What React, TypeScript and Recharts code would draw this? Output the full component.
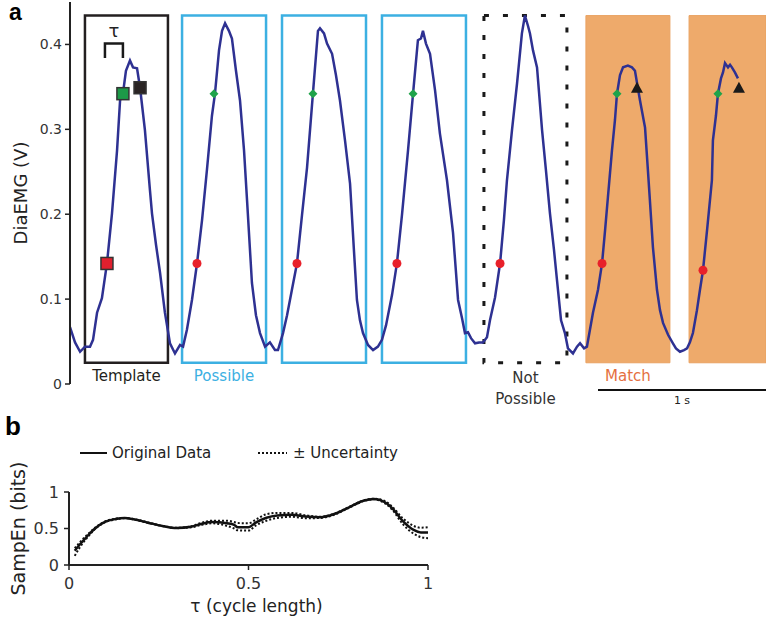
import React from 'react';
import {
  ComposedChart,
  LineChart,
  Line,
  Scatter,
  XAxis,
  YAxis,
  ReferenceArea,
  ReferenceDot,
  ReferenceLine,
  Legend,
} from 'recharts';

const FONT = '"DejaVu Sans", Verdana, sans-serif';

// panel a: DiaEMG trace (time in s, amplitude in V)
const TIME = [
  0, 0.03, 0.06, 0.089, 0.119, 0.137, 0.161, 0.19, 0.22, 0.25, 0.28, 0.298, 0.315, 0.333, 0.357, 0.375, 0.399, 0.417,
  0.446, 0.476, 0.488, 0.512, 0.536, 0.565, 0.595, 0.625, 0.655, 0.673, 0.696, 0.726, 0.756, 0.786, 0.815, 0.845,
  0.863, 0.887, 0.905, 0.923, 0.946, 0.964, 0.988, 1.012, 1.036, 1.054, 1.083, 1.107, 1.131, 1.161, 1.19, 1.22, 1.238,
  1.268, 1.292, 1.321, 1.351, 1.381, 1.411, 1.446, 1.476, 1.488, 1.512, 1.53, 1.56, 1.583, 1.607, 1.637, 1.667, 1.69,
  1.708, 1.726, 1.744, 1.774, 1.804, 1.833, 1.857, 1.881, 1.917, 1.946, 1.976, 2.012, 2.042, 2.071, 2.089, 2.101,
  2.119, 2.143, 2.173, 2.202, 2.244, 2.28, 2.31, 2.333, 2.351, 2.369, 2.387, 2.411, 2.435, 2.458, 2.482, 2.5, 2.53,
  2.56, 2.583, 2.601, 2.631, 2.661, 2.69, 2.708, 2.726, 2.738, 2.756, 2.78, 2.81, 2.833, 2.857, 2.881, 2.899, 2.923,
  2.946, 2.964, 2.994, 3.018, 3.036, 3.06, 3.077, 3.095, 3.113, 3.143, 3.167, 3.185, 3.202, 3.226, 3.244, 3.256,
  3.274, 3.292, 3.321, 3.345, 3.363, 3.393, 3.423, 3.44, 3.452, 3.47, 3.494, 3.512, 3.53, 3.56, 3.589, 3.607, 3.631,
  3.655, 3.673, 3.69, 3.708, 3.732, 3.75, 3.768, 3.792, 3.821, 3.827, 3.845, 3.857, 3.875, 3.887, 3.899, 3.917, 3.929,
  3.94, 3.958, 3.976,
];
const DIA_EMG = [
  0.067, 0.049, 0.038, 0.044, 0.044, 0.052, 0.084, 0.101, 0.142, 0.201, 0.275, 0.334, 0.342, 0.369, 0.381, 0.373, 0.372,
  0.349, 0.299, 0.228, 0.201, 0.164, 0.131, 0.084, 0.048, 0.036, 0.046, 0.044, 0.064, 0.099, 0.142, 0.193, 0.252, 0.316,
  0.342, 0.393, 0.416, 0.425, 0.416, 0.407, 0.369, 0.334, 0.275, 0.216, 0.119, 0.081, 0.06, 0.044, 0.049, 0.04, 0.04,
  0.06, 0.081, 0.111, 0.142, 0.199, 0.255, 0.342, 0.416, 0.419, 0.413, 0.401, 0.389, 0.364, 0.334, 0.287, 0.236, 0.158,
  0.099, 0.075, 0.06, 0.046, 0.04, 0.044, 0.052, 0.069, 0.105, 0.142, 0.199, 0.275, 0.342, 0.405, 0.407, 0.416, 0.401,
  0.389, 0.346, 0.295, 0.24, 0.178, 0.099, 0.078, 0.06, 0.061, 0.054, 0.048, 0.049, 0.049, 0.055, 0.075, 0.102, 0.142,
  0.193, 0.24, 0.299, 0.354, 0.413, 0.434, 0.422, 0.413, 0.393, 0.373, 0.299, 0.252, 0.201, 0.158, 0.122, 0.075, 0.06,
  0.042, 0.036, 0.044, 0.048, 0.042, 0.044, 0.064, 0.084, 0.111, 0.142, 0.181, 0.22, 0.275, 0.311, 0.342, 0.364,
  0.373, 0.375, 0.373, 0.369, 0.334, 0.302, 0.252, 0.216, 0.161, 0.111, 0.087, 0.072, 0.058, 0.048, 0.042, 0.038,
  0.04, 0.042, 0.049, 0.06, 0.087, 0.111, 0.134, 0.181, 0.24, 0.287, 0.316, 0.342, 0.36, 0.367, 0.378, 0.373, 0.376,
  0.373, 0.367, 0.36,
];

// template points (squares) and matched points
const TEMPLATE_T = [0.22, 0.315, 0.417];
const TEMPLATE_V = [0.142, 0.342, 0.349];
const TEMPLATE_COLORS = ['#e0202e', '#1c9a48', '#2a2424'];
const RED_T = [0.756, 1.351, 1.946, 2.56, 3.167, 3.768];
const RED_V = [0.142, 0.142, 0.142, 0.142, 0.142, 0.134];
const GREEN_T = [0.857, 1.446, 2.042, 3.256, 3.857];
const GREEN_V = [0.342, 0.342, 0.342, 0.342, 0.342];
const TRIANGLE_T = [3.375, 3.982];
const TRIANGLE_V = [0.349, 0.349];

// windows: [start, end] in s
const TEMPLATE_WIN = [0.089, 0.583];
const POSSIBLE_WINS = [[0.667, 1.167], [1.262, 1.762], [1.857, 2.357]];
const NOT_POSSIBLE_WIN = [2.464, 2.958];
const MATCH_WINS = [[3.071, 3.571], [3.685, 4.143]];
const WIN_LOW = 0.025;
const WIN_HIGH = 0.434;

const TAU_T = [0.208, 0.208, 0.315, 0.315];
const TAU_V = [0.384, 0.401, 0.401, 0.384];

// panel b: SampEn vs tau
const TAU = [
  0.016, 0.03, 0.05, 0.07, 0.1, 0.13, 0.155, 0.18, 0.22, 0.26, 0.3, 0.34, 0.37, 0.4, 0.44, 0.46, 0.47, 0.5, 0.52, 0.55,
  0.58, 0.62, 0.66, 0.7, 0.74, 0.78, 0.82, 0.85, 0.88, 0.9, 0.93, 0.96, 0.98, 1.0,
];
const SAMPEN = [
  0.196, 0.28, 0.39, 0.49, 0.59, 0.63, 0.643, 0.627, 0.58, 0.535, 0.507, 0.523, 0.565, 0.589, 0.571, 0.55, 0.518, 0.518,
  0.58, 0.648, 0.679, 0.689, 0.663, 0.654, 0.7, 0.79, 0.88, 0.904, 0.86, 0.78, 0.6, 0.48, 0.446, 0.446,
];
const SAMPEN_UPPER = [
  0.23, 0.31, 0.41, 0.5, 0.595, 0.635, 0.645, 0.63, 0.583, 0.537, 0.509, 0.53, 0.58, 0.607, 0.607, 0.589, 0.575, 0.571,
  0.62, 0.696, 0.714, 0.714, 0.68, 0.66, 0.705, 0.795, 0.885, 0.908, 0.875, 0.8, 0.64, 0.536, 0.511, 0.518,
];
const SAMPEN_LOWER = [
  0.125, 0.24, 0.37, 0.48, 0.585, 0.625, 0.641, 0.624, 0.577, 0.533, 0.505, 0.516, 0.55, 0.571, 0.535, 0.5, 0.475,
  0.471, 0.54, 0.607, 0.645, 0.66, 0.64, 0.645, 0.69, 0.785, 0.875, 0.9, 0.845, 0.76, 0.56, 0.429, 0.382, 0.368,
];

const traceRows = TIME.map((t, i) => ({ t, v: DIA_EMG[i] }));
const tauRows = TAU_T.map((t, i) => ({ t, v: TAU_V[i] }));
const templateRows = TEMPLATE_T.map((t, i) => ({ t, v: TEMPLATE_V[i], c: TEMPLATE_COLORS[i] }));
const redRows = RED_T.map((t, i) => ({ t, v: RED_V[i] }));
const greenRows = GREEN_T.map((t, i) => ({ t, v: GREEN_V[i] }));
const triRows = TRIANGLE_T.map((t, i) => ({ t, v: TRIANGLE_V[i] }));
const sampRows = TAU.map((tau, i) => ({ tau, orig: SAMPEN[i], hi: SAMPEN_UPPER[i], lo: SAMPEN_LOWER[i] }));

const squareShape = (p: any) => (
  <rect x={p.cx - 6} y={p.cy - 6} width={12} height={12} fill={p.payload.c} stroke="#333" strokeWidth={1.5} />
);
const dotShape = (p: any) => <circle cx={p.cx} cy={p.cy} r={4.5} fill="#e8202a" />;
const diamondShape = (p: any) => (
  <polygon points={`${p.cx},${p.cy - 4.5} ${p.cx + 4.5},${p.cy} ${p.cx},${p.cy + 4.5} ${p.cx - 4.5},${p.cy}`} fill="#1fa34a" />
);
const triShape = (p: any) => (
  <polygon points={`${p.cx},${p.cy - 6} ${p.cx + 6},${p.cy + 5} ${p.cx - 6},${p.cy + 5}`} fill="#1a1a1a" />
);

const textShape = (lines: string[], color: string, size: number, dy: number, lineGap = 21) => (p: any) => (
  <text x={p.cx} y={p.cy + dy} textAnchor="middle" fill={color} fontSize={size} fontFamily={FONT}>
    {lines.map((l, i) => (
      <tspan key={i} x={p.cx} dy={i === 0 ? 0 : lineGap}>
        {l}
      </tspan>
    ))}
  </text>
);

const mid = (w: number[]) => (w[0] + w[1]) / 2;

function SampEnLegend() {
  return (
    <div style={{ position: 'relative', height: 20, fontFamily: FONT, fontSize: 15, color: '#222' }}>
      <svg width={30} height={20} style={{ position: 'absolute', left: 80, top: 0 }}>
        <line x1={0} y1={10} x2={27} y2={10} stroke="#111" strokeWidth={2} />
      </svg>
      <span style={{ position: 'absolute', left: 112, top: 1 }}>Original Data</span>
      <svg width={30} height={20} style={{ position: 'absolute', left: 258, top: 0 }}>
        <line x1={0} y1={10} x2={29} y2={10} stroke="#111" strokeWidth={2} strokeDasharray="2 2" />
      </svg>
      <span style={{ position: 'absolute', left: 293, top: 1 }}>± Uncertainty</span>
    </div>
  );
}

export default function App() {
  return (
    <div style={{ position: 'absolute', left: 0, top: 0, width: 766, height: 618, background: '#fff', fontFamily: FONT }}>
      <div style={{ position: 'absolute', left: 9, top: 0, lineHeight: '24px', fontFamily: '"Liberation Sans", Arial, sans-serif', fontWeight: 700, fontSize: 23 }}>a</div>
      <div style={{ position: 'absolute', left: 5, top: 413, lineHeight: '26px', fontFamily: '"Liberation Sans", Arial, sans-serif', fontWeight: 700, fontSize: 26 }}>b</div>

      <div style={{ position: 'absolute', left: 0, top: 0 }}>
        <ComposedChart width={766} height={410} margin={{ top: 2, right: 0, bottom: 26, left: 0 }}>
          <XAxis type="number" dataKey="t" domain={[0, 4.143]} hide allowDataOverflow />
          <YAxis
            type="number"
            dataKey="v"
            domain={[0, 0.45]}
            ticks={[0, 0.1, 0.2, 0.3, 0.4]}
            width={70}
            axisLine={{ stroke: '#222', strokeWidth: 2 }}
            tickLine={{ stroke: '#222', strokeWidth: 1.5 }}
            tickSize={5}
            tickMargin={3}
            tick={{ fontSize: 14, fill: '#333', fontFamily: FONT }}
            label={{ value: 'DiaEMG (V)', angle: -90, position: 'insideLeft', offset: 21, style: { textAnchor: 'middle', fontSize: 18, fill: '#222', fontFamily: FONT } }}
          />

          {MATCH_WINS.map((w, i) => (
            <ReferenceArea key={'m' + i} x1={w[0]} x2={w[1]} y1={WIN_LOW} y2={WIN_HIGH} fill="#eeaa6b" fillOpacity={1} stroke="#e9a262" strokeWidth={1} ifOverflow="visible" />
          ))}
          <ReferenceArea x1={TEMPLATE_WIN[0]} x2={TEMPLATE_WIN[1]} y1={WIN_LOW} y2={WIN_HIGH} fill="none" stroke="#231f20" strokeWidth={2.5} />
          {POSSIBLE_WINS.map((w, i) => (
            <ReferenceArea key={'p' + i} x1={w[0]} x2={w[1]} y1={WIN_LOW} y2={WIN_HIGH} fill="none" stroke="#3cb0e2" strokeWidth={2.5} />
          ))}
          <ReferenceArea x1={NOT_POSSIBLE_WIN[0]} x2={NOT_POSSIBLE_WIN[1]} y1={WIN_LOW} y2={WIN_HIGH} fill="none" stroke="#1a1a1a" strokeWidth={3} strokeDasharray="5 14" />

          <Line data={traceRows} dataKey="v" type="linear" stroke="#2e3192" strokeWidth={2.5} dot={false} isAnimationActive={false} />
          <Line data={tauRows} dataKey="v" type="linear" stroke="#1a1a1a" strokeWidth={2.5} dot={false} isAnimationActive={false} />

          <Scatter data={templateRows} dataKey="v" shape={squareShape} isAnimationActive={false} />
          <Scatter data={redRows} dataKey="v" shape={dotShape} isAnimationActive={false} />
          <Scatter data={greenRows} dataKey="v" shape={diamondShape} isAnimationActive={false} />
          <Scatter data={triRows} dataKey="v" shape={triShape} isAnimationActive={false} />

          <ReferenceLine segment={[{ x: 3.143, y: -0.007 }, { x: 4.143, y: -0.007 }]} stroke="#111" strokeWidth={2} ifOverflow="visible" />
          <ReferenceDot x={3.643} y={-0.007} ifOverflow="visible" shape={textShape(['1 s'], '#222', 11, 14)} />
          <ReferenceDot x={0.262} y={0.401} ifOverflow="visible" shape={textShape(['τ'], '#222', 18, -7)} />

          <ReferenceDot x={mid(TEMPLATE_WIN)} y={WIN_LOW} ifOverflow="visible" shape={textShape(['Template'], '#231f20', 15, 18)} />
          <ReferenceDot x={mid(POSSIBLE_WINS[0])} y={WIN_LOW} ifOverflow="visible" shape={textShape(['Possible'], '#3cb0e2', 15, 18)} />
          <ReferenceDot x={mid(NOT_POSSIBLE_WIN)} y={WIN_LOW} ifOverflow="visible" shape={textShape(['Not', 'Possible'], '#333', 15, 20)} />
          <ReferenceDot x={mid(MATCH_WINS[0])} y={WIN_LOW} ifOverflow="visible" shape={textShape(['Match'], '#e5703f', 15, 18)} />
        </ComposedChart>
      </div>

      <div style={{ position: 'absolute', left: 0, top: 436 }}>
        <LineChart width={440} height={180} data={sampRows} margin={{ top: 36, right: 12, bottom: 0, left: 0 }}>
          <Legend verticalAlign="top" align="left" wrapperStyle={{ top: 7, left: 0, width: 440 }} content={() => <SampEnLegend />} />
          <XAxis
            type="number"
            dataKey="tau"
            domain={[0, 1]}
            ticks={[0, 0.5, 1]}
            height={51}
            axisLine={{ stroke: '#222', strokeWidth: 2 }}
            tickLine={{ stroke: '#222', strokeWidth: 1.5 }}
            tickSize={5}
            tickMargin={8}
            tick={{ fontSize: 16, fill: '#333', fontFamily: FONT }}
            label={{ value: 'τ (cycle length)', position: 'insideBottom', offset: 4, dx: 8, style: { fontSize: 17, fill: '#222', fontFamily: FONT } }}
          />
          <YAxis
            type="number"
            domain={[0, 1]}
            ticks={[0, 0.5, 1]}
            width={69}
            axisLine={{ stroke: '#222', strokeWidth: 2 }}
            tickLine={{ stroke: '#222', strokeWidth: 1.5 }}
            tickSize={5}
            tickMargin={5}
            tick={{ fontSize: 16, fill: '#333', fontFamily: FONT }}
            label={{ value: 'SampEn (bits)', angle: -90, position: 'insideLeft', offset: 18, style: { textAnchor: 'middle', fontSize: 19, fill: '#222', fontFamily: FONT } }}
          />
          <Line dataKey="hi" type="monotone" stroke="#111" strokeWidth={2} strokeDasharray="2 2" dot={false} isAnimationActive={false} />
          <Line dataKey="lo" type="monotone" stroke="#111" strokeWidth={2} strokeDasharray="2 2" dot={false} isAnimationActive={false} />
          <Line dataKey="orig" type="monotone" stroke="#111" strokeWidth={2.5} dot={false} isAnimationActive={false} />
        </LineChart>
      </div>
    </div>
  );
}
